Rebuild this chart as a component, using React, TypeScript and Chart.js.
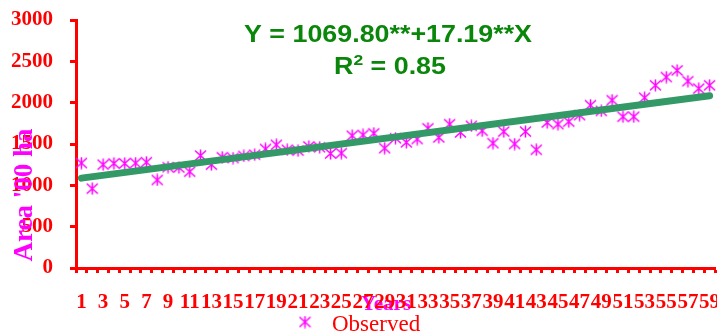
import React, { useEffect, useRef } from "react";
import { Chart, registerables } from "chart.js";

Chart.register(...registerables);

// ---- data ----
const years: string[] = Array.from({ length: 59 }, (_, i) => String(i + 1));
const observed: number[] = [
  1270, 960, 1250, 1265, 1265, 1270, 1280, 1065, 1220, 1215,
  1165, 1360, 1250, 1340, 1330, 1355, 1370, 1440, 1490, 1430,
  1420, 1470, 1460, 1385, 1390, 1600, 1610, 1630, 1450, 1570,
  1520, 1560, 1690, 1580, 1740, 1640, 1720, 1660, 1510, 1650,
  1500, 1650, 1430, 1760, 1740, 1770, 1850, 1970, 1900, 2030,
  1830, 1830, 2060, 2210, 2310, 2390, 2260, 2170, 2210,
];
// fitted line end points (year 1 and year 59)
const trendEnds: number[] = [1087.0, 2084.0];
const yTicks: number[] = [0, 500, 1000, 1500, 2000, 2500, 3000];
const equationText = "Y = 1069.80**+17.19**X";
const r2Value = "0.85";
const yTitle = "Area '00 ha";
const xTitle = "Years";
const legendLabel = "Observed";

const RED = "#FF0000";
const MAGENTA = "#FF00FF";
const GREEN = "#0A870A";
const TREND = "#339966";

function makeStar(size: number): HTMLCanvasElement {
  const c = document.createElement("canvas");
  c.width = size;
  c.height = size;
  const g = c.getContext("2d")!;
  g.strokeStyle = MAGENTA;
  g.lineWidth = 1.5;
  const m = size / 2;
  g.beginPath();
  g.moveTo(m, 0.5);
  g.lineTo(m, size - 0.5);
  g.moveTo(1, 1.5);
  g.lineTo(size - 1, size - 1.5);
  g.moveTo(size - 1, 1.5);
  g.lineTo(1, size - 1.5);
  g.stroke();
  return c;
}

export default function App() {
  const ref = useRef<HTMLCanvasElement | null>(null);

  useEffect(() => {
    document.body.style.margin = "0";
    const canvas = ref.current!;
    const star = makeStar(13);

    const trendData: (number | null)[] = years.map(() => null);
    trendData[0] = trendEnds[0];
    trendData[years.length - 1] = trendEnds[1];

    const overlay = {
      id: "overlay",
      beforeDraw(chart: any) {
        const ctx = chart.ctx as CanvasRenderingContext2D;
        ctx.save();
        ctx.fillStyle = MAGENTA;
        ctx.font = 'bold 21px "Liberation Serif", "Times New Roman", serif';
        ctx.textAlign = "center";
        ctx.textBaseline = "alphabetic";
        ctx.fillText(xTitle, 386, 310);
        ctx.restore();
      },
      afterDraw(chart: any) {
        const ctx = chart.ctx as CanvasRenderingContext2D;
        ctx.save();
        // equation
        ctx.fillStyle = GREEN;
        ctx.font = 'bold 23px "Liberation Sans", Arial, sans-serif';
        ctx.textBaseline = "alphabetic";
        ctx.textAlign = "left";
        const w = ctx.measureText(equationText).width;
        const sx = 288 / w;
        ctx.save();
        ctx.translate(388 - 144, 42);
        ctx.scale(sx, 1);
        ctx.fillText(equationText, 0, 0);
        ctx.restore();
        // R^2
        const big = 'bold 23px "Liberation Sans", Arial, sans-serif';
        const small = 'bold 15px "Liberation Sans", Arial, sans-serif';
        ctx.font = big;
        const wR = ctx.measureText("R").width;
        const rest = " = " + r2Value;
        const wRest = ctx.measureText(rest).width;
        ctx.font = small;
        const w2 = ctx.measureText("2").width;
        const total = (wR + w2 + wRest) * sx;
        ctx.save();
        ctx.translate(390 - total / 2, 74);
        ctx.scale(sx, 1);
        ctx.font = big;
        ctx.fillText("R", 0, 0);
        ctx.font = small;
        ctx.fillText("2", wR, -9);
        ctx.font = big;
        ctx.fillText(rest, wR + w2, 0);
        ctx.restore();
        // y title
        ctx.save();
        ctx.fillStyle = MAGENTA;
        ctx.font = 'bold 27px "Liberation Serif", "Times New Roman", serif';
        ctx.translate(32, 195);
        ctx.rotate(-Math.PI / 2);
        ctx.textAlign = "center";
        ctx.textBaseline = "alphabetic";
        ctx.fillText(yTitle, 0, 0);
        ctx.restore();
        // legend
        ctx.drawImage(star, 305 - 6.5, 322 - 6.5);
        ctx.fillStyle = RED;
        ctx.font = '23px "Liberation Serif", "Times New Roman", serif';
        ctx.textAlign = "left";
        ctx.fillText(legendLabel, 332, 331);
        ctx.restore();
      },
    };

    const chart = new Chart(canvas, {
      type: "line",
      data: {
        labels: years,
        datasets: [
          {
            label: "Linear",
            data: trendData,
            borderColor: TREND,
            borderWidth: 7,
            borderCapStyle: "round",
            pointRadius: 0,
            spanGaps: true,
            fill: false,
            order: 0,
          },
          {
            label: legendLabel,
            data: observed,
            showLine: false,
            pointStyle: star as any,
            pointRadius: 6,
            borderColor: MAGENTA,
            backgroundColor: MAGENTA,
            order: 1,
          },
        ],
      },
      plugins: [overlay],
      options: {
        responsive: false,
        animation: false,
        devicePixelRatio: 1,
        layout: { autoPadding: false, padding: { top: 20, right: 2, left: 0, bottom: 0 } },
        plugins: {
          legend: { display: false },
          tooltip: { enabled: false },
        },
        scales: {
          x: {
            type: "category",
            offset: true,
            grid: {
              offset: true,
              drawOnChartArea: false,
              drawTicks: true,
              tickLength: 5,
              tickWidth: 3,
              tickColor: RED,
            },
            border: { color: RED, width: 3 },
            ticks: {
              autoSkip: false,
              maxRotation: 0,
              minRotation: 0,
              padding: 17,
              color: RED,
              font: { family: '"Liberation Serif", "Times New Roman", serif', size: 21, weight: "bold" },
              callback: (_v: any, i: number) => (i % 2 === 0 ? years[i] : ""),
            },
            afterFit: (s: any) => {
              s.height = 65;
              s.paddingLeft = 0;
              s.paddingRight = 0;
            },
          },
          y: {
            min: 0,
            max: 3000,
            afterBuildTicks: (s: any) => {
              s.ticks = yTicks.map((v) => ({ value: v }));
            },
            grid: {
              drawOnChartArea: false,
              drawTicks: true,
              tickLength: 6,
              tickWidth: 3,
              tickColor: RED,
            },
            border: { color: RED, width: 3 },
            ticks: {
              padding: 17,
              color: RED,
              font: { family: '"Liberation Serif", "Times New Roman", serif', size: 21, weight: "bold" },
              callback: (v: any) => String(v),
            },
            afterFit: (s: any) => {
              s.width = 76;
              s.paddingTop = 0;
              s.paddingBottom = 0;
            },
          },
        },
      },
    } as any);

    return () => chart.destroy();
  }, []);

  return (
    <div style={{ width: 717, height: 333 }}>
      <canvas ref={ref} width={717} height={333} style={{ display: "block" }} />
    </div>
  );
}
